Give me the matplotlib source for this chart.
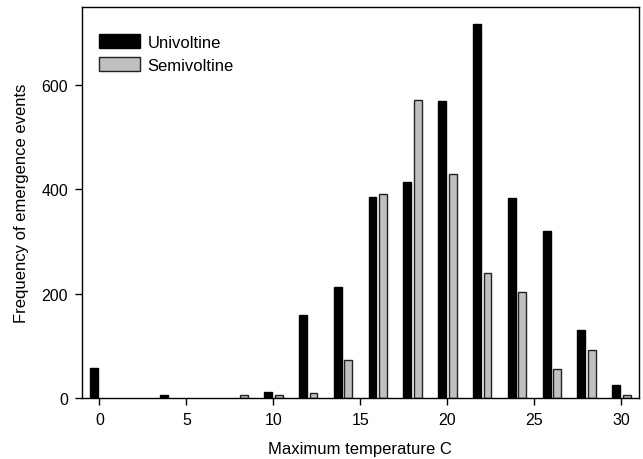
import matplotlib
matplotlib.use("Agg")
import matplotlib.pyplot as plt
import numpy as np

plt.rcParams['font.family'] = ['Liberation Sans', 'DejaVu Sans']

# Temperature bins (°C) and emergence-event counts per voltinism group
temp_bins = [0, 2, 4, 6, 8, 10, 12, 14, 16, 18, 20, 22, 24, 26, 28, 30]
univoltine = [58, 0, 5, 0, 0, 12, 158, 213, 386, 415, 569, 717, 384, 320, 130, 25]
semivoltine = [0, 0, 0, 0, 6, 5, 9, 73, 391, 571, 430, 240, 204, 56, 92, 5]

x_ticks = [0, 5, 10, 15, 20, 25, 30]
y_ticks = [0, 200, 400, 600]

fig = plt.figure(figsize=(6.43, 4.60), dpi=100)
ax = fig.add_axes([0.1275, 0.133, 0.8660, 0.8496])

x = np.array(temp_bins, dtype=float)
uni = np.array(univoltine, dtype=float)
semi = np.array(semivoltine, dtype=float)
offset = 0.3
width = 0.45

# empty bins are left blank
mu = uni > 0
ms = semi > 0
ax.bar(x[mu] - offset, uni[mu], width=width, color='black', edgecolor='black',
       linewidth=1.0, label='Univoltine')
ax.bar(x[ms] + offset, semi[ms], width=width, color='#c0c0c0', edgecolor='#222222',
       linewidth=1.0, label='Semivoltine')

ax.set_xlim(-1, 31)
ax.set_ylim(0, 750)
ax.set_xticks(x_ticks)
ax.set_yticks(y_ticks)
ax.tick_params(direction='out', length=5, width=1, labelsize=11.5, pad=5,
               top=False, right=False)
for s in ax.spines.values():
    s.set_visible(True)
    s.set_linewidth(1.0)
    s.set_color('black')

ax.set_xlabel('Maximum temperature C', fontsize=12, labelpad=10)
ax.set_ylabel('Frequency of emergence events', fontsize=12, labelpad=9)

ax.legend(loc='upper left', frameon=False, fontsize=12, handlelength=2.45,
          handleheight=0.85, handletextpad=0.45, labelspacing=0.45,
          bbox_to_anchor=(0.01, 0.96), borderaxespad=0.3)

fig.savefig('out.png', dpi=100)
